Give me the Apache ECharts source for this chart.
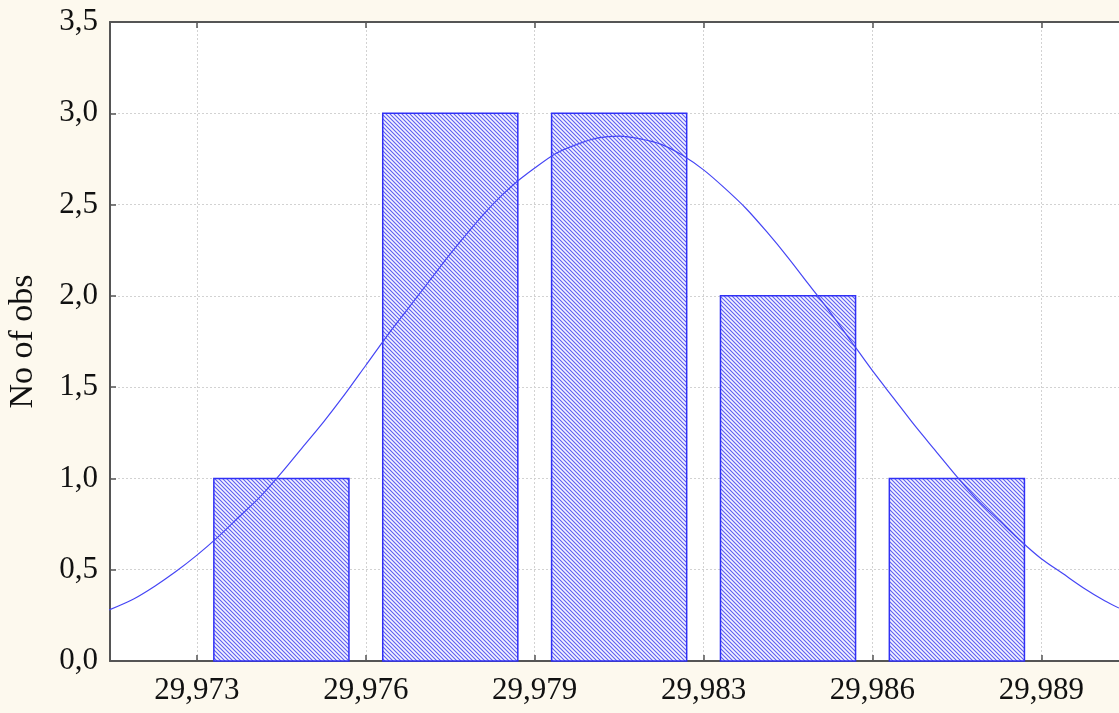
<!DOCTYPE html>
<html>
<head>
<meta charset="utf-8">
<script src="https://cdn.jsdelivr.net/npm/echarts@6/dist/echarts.min.js"></script>
<style>
  html, body { margin: 0; padding: 0; background: #fdf9ee; }
  #chart { width: 1119px; height: 713px; }
</style>
</head>
<body>
<div id="chart"></div>
<script>
// Histogram of observed values with a fitted normal curve.
// X positions are expressed in class-width units: 0 is the first class boundary.
const boundaryLabels = ['29,973', '29,976', '29,979', '29,983', '29,986', '29,989'];
const boundaryPositions = [0, 1, 2, 3, 4, 5];
const classCenters = [0.5, 1.5, 2.5, 3.5, 4.5];
const counts = [1, 3, 3, 2, 1];

// Expected-frequency curve, sampled along the axis
const curveX = [-0.52, -0.375, -0.25, -0.125,
                0, 0.125, 0.25, 0.375, 0.5, 0.625, 0.75, 0.875,
                1, 1.125, 1.25, 1.375, 1.5, 1.625, 1.75, 1.875,
                2, 2.125, 2.25, 2.375, 2.5, 2.625, 2.75, 2.875,
                3, 3.125, 3.25, 3.375, 3.5, 3.625, 3.75, 3.875,
                4, 4.125, 4.25, 4.375, 4.5, 4.625, 4.75, 4.875,
                5, 5.125, 5.25, 5.375, 5.46];
const curveY = [0.28, 0.34, 0.41, 0.49,
                0.58, 0.68, 0.79, 0.90, 1.03, 1.17, 1.31, 1.46,
                1.62, 1.78, 1.93, 2.08, 2.23, 2.37, 2.50, 2.61,
                2.70, 2.78, 2.83, 2.865, 2.875, 2.86, 2.83, 2.77,
                2.69, 2.59, 2.48, 2.35, 2.21, 2.06, 1.91, 1.75,
                1.59, 1.44, 1.29, 1.15, 1.01, 0.88, 0.77, 0.66,
                0.56, 0.48, 0.40, 0.33, 0.29];

const X_MIN = -0.515, X_MAX = 5.46;
const BAR_HALF = 0.4;           // bar occupies 80% of a class
const FONT = "'Liberation Serif', 'Times New Roman', serif";

function makeHatch() {
  const c = document.createElement('canvas');
  c.width = 4; c.height = 4;
  const g = c.getContext('2d');
  g.fillStyle = '#f4f4ff';
  g.fillRect(0, 0, 4, 4);
  g.strokeStyle = '#5e5ef2';
  g.lineWidth = 1.1;
  g.beginPath();
  g.moveTo(-1, -1); g.lineTo(5, 5);
  g.moveTo(-1, 3); g.lineTo(1, 5);
  g.moveTo(3, -1); g.lineTo(5, 1);
  g.stroke();
  return c;
}
const hatch = makeHatch();

const chart = echarts.init(document.getElementById('chart'), null, { renderer: 'canvas' });

const axisLineStyle = { color: '#555', width: 2 };
const gridLineStyle = { color: '#d2d2d2', width: 1, type: [2, 2] };

chart.setOption({
  animation: false,
  backgroundColor: '#fdf9ee',
  grid: {
    left: 110, right: 0, top: 22, bottom: 52,
    outerBoundsMode: 'none', containLabel: false,
    show: true, backgroundColor: '#ffffff', borderWidth: 0
  },
  xAxis: [
    {
      type: 'value', position: 'bottom', min: X_MIN, max: X_MAX,
      axisLine: { show: true, onZero: false, lineStyle: axisLineStyle },
      axisTick: { show: true, inside: true, length: 6, customValues: boundaryPositions,
                  lineStyle: { color: '#555', width: 1.5 } },
      axisLabel: {
        customValues: boundaryPositions, margin: 14,
        fontFamily: FONT, fontSize: 31, color: '#111',
        formatter: v => boundaryLabels[Math.round(v)]
      },
      splitLine: { show: true, lineStyle: gridLineStyle }
    },
    {
      type: 'value', position: 'top', min: X_MIN, max: X_MAX,
      axisLine: { show: true, onZero: false, lineStyle: axisLineStyle },
      axisTick: { show: true, inside: true, length: 6, customValues: boundaryPositions,
                  lineStyle: { color: '#555', width: 1.5 } },
      axisLabel: { show: false },
      splitLine: { show: false }
    }
  ],
  yAxis: {
    type: 'value', min: 0, max: 3.5, interval: 0.5,
    name: 'No of obs', nameLocation: 'middle', nameGap: 70,
    nameTextStyle: { fontFamily: FONT, fontSize: 34, color: '#111' },
    axisLine: { show: true, onZero: false, lineStyle: axisLineStyle },
    axisTick: { show: true, inside: true, length: 6, lineStyle: { color: '#555', width: 1.5 } },
    axisLabel: {
      margin: 12, fontFamily: FONT, fontSize: 31, color: '#111',
      formatter: v => v.toFixed(1).replace('.', ',')
    },
    splitLine: { show: true, lineStyle: gridLineStyle }
  },
  series: [
    {
      type: 'custom',
      data: classCenters.map((c, i) => [c, counts[i]]),
      encode: { x: 0, y: 1 },
      z: 2,
      renderItem(params, api) {
        const c = api.value(0), n = api.value(1);
        const p0 = api.coord([c - BAR_HALF, n]);
        const p1 = api.coord([c + BAR_HALF, 0]);
        return {
          type: 'rect',
          shape: { x: p0[0], y: p0[1], width: p1[0] - p0[0], height: p1[1] - p0[1] },
          style: {
            fill: { image: hatch, repeat: 'repeat' },
            stroke: '#3030f5', lineWidth: 1.5
          }
        };
      }
    },
    {
      type: 'line',
      data: curveX.map((x, i) => [x, curveY[i]]),
      smooth: 0.3,
      showSymbol: false,
      z: 3,
      lineStyle: { color: '#4646f5', width: 1.2 }
    }
  ]
});
</script>
</body>
</html>
